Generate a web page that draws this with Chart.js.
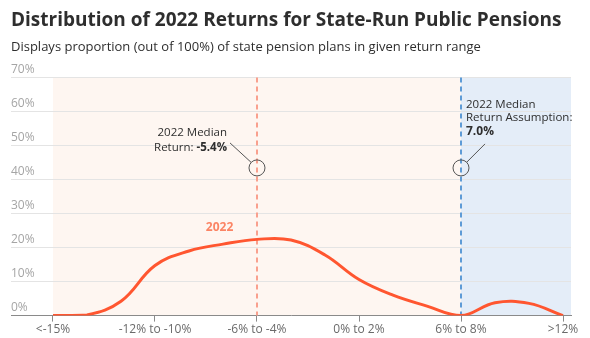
<!DOCTYPE html>
<html>
<head>
<meta charset="utf-8">
<script src="https://cdn.jsdelivr.net/npm/chart.js@4.4.0/dist/chart.umd.min.js"></script>
<style>
  html, body { margin: 0; padding: 0; background: #fff; }
  #wrap { width: 590px; height: 338px; }
</style>
</head>
<body>
<div id="wrap"><canvas id="returnsChart" width="590" height="338"></canvas></div>
<script>
// ---- data ----
const categories = ['<-15%', '-15% to -14%', '-14% to -12%', '-12% to -10%', '-10% to -8%', '-8% to -6%',
  '-6% to -4%', '-4% to -2%', '-2% to 0%', '0% to 2%', '2% to 4%', '4% to 6%',
  '6% to 8%', '8% to 10%', '10% to 12%', '>12%'];
const share2022 = [0, 0.2, 4.2, 14.7, 19, 21, 22.4, 22.2, 17.8, 10.6, 6, 2.8, 0, 3.8, 3.6, 0];
const labelledTicks = [0, 3, 6, 9, 12, 15];
const yTicks = [0, 10, 20, 30, 40, 50, 60, 70];

const MEDIAN_IDX = 6;        // -6% to -4%  (median -5.4%)
const ASSUMPTION_IDX = 12;   // 6% to 8%    (assumption 7.0%)
const MARKER_Y = 43.4;

const COLORS = {
  line: '#FF5630',
  series: '#FB8464',
  peach: '#FEF6F1',
  blue: '#E4EDF8',
  medianDash: '#F9A08E',
  assumeDash: '#5E9BD6',
  grid: '#E4E4E4',
  axis: '#8A8A8A',
  text: '#2E2E2E',
  tick: '#A5A5A5',
};

const FONT = "'Open Sans', sans-serif";

// shading + dashed reference lines + notes
const decorations = {
  id: 'decorations',
  beforeDraw(chart) {
    const { ctx, chartArea: a, scales: { x } } = chart;
    const x0 = x.getPixelForValue(0);
    const xm = x.getPixelForValue(ASSUMPTION_IDX);
    ctx.save();
    ctx.fillStyle = COLORS.peach;
    ctx.fillRect(x0, a.top, xm - x0, a.bottom - a.top);
    ctx.fillStyle = COLORS.blue;
    ctx.fillRect(xm, a.top, a.right - xm, a.bottom - a.top);
    ctx.restore();
  },
  beforeDatasetsDraw(chart) {
    const { ctx, chartArea: a, scales: { x } } = chart;
    ctx.save();
    ctx.lineWidth = 2;
    ctx.setLineDash([5, 4]);
    [[MEDIAN_IDX, COLORS.medianDash], [ASSUMPTION_IDX, COLORS.assumeDash]].forEach(([i, c]) => {
      const px = Math.round(x.getPixelForValue(i));
      ctx.strokeStyle = c;
      ctx.beginPath();
      ctx.moveTo(px, a.top);
      ctx.lineTo(px, a.bottom);
      ctx.stroke();
    });
    ctx.restore();
  },
  afterDatasetsDraw(chart) {
    const { ctx, scales: { x, y } } = chart;
    const r = 8;
    ctx.save();

    // series label
    ctx.font = `bold 12px ${FONT}`;
    ctx.fillStyle = COLORS.series;
    ctx.textAlign = 'center';
    ctx.textBaseline = 'middle';
    ctx.fillText('2022', x.getPixelForValue(4.9), y.getPixelForValue(25.9));

    // circles + leaders
    ctx.strokeStyle = '#555';
    ctx.lineWidth = 1;
    const cy = y.getPixelForValue(MARKER_Y);
    const c1 = x.getPixelForValue(MEDIAN_IDX);
    const c2 = x.getPixelForValue(ASSUMPTION_IDX);
    [c1, c2].forEach(cx => {
      ctx.beginPath();
      ctx.arc(cx, cy, r, 0, Math.PI * 2);
      ctx.stroke();
    });
    ctx.beginPath();
    ctx.moveTo(c1 - r * 0.73, cy - r * 0.69);
    ctx.lineTo(c1 - 27, cy - 25);
    ctx.moveTo(c2 + r * 0.71, cy - r * 0.71);
    ctx.lineTo(c2 + 24, cy - 24);
    ctx.stroke();

    // left note (right aligned)
    ctx.fillStyle = COLORS.text;
    ctx.textBaseline = 'middle';
    const lx = c1 - 30;
    ctx.textAlign = 'right';
    ctx.font = `11.5px ${FONT}`;
    ctx.fillText('2022 Median', lx, cy - 35);
    ctx.font = `bold 11.5px ${FONT}`;
    const boldW = ctx.measureText('-5.4%').width;
    ctx.fillText('-5.4%', lx, cy - 20);
    ctx.font = `11.5px ${FONT}`;
    ctx.fillText('Return: ', lx - boldW, cy - 20);

    // right note (left aligned)
    const rx = c2 + 5;
    ctx.textAlign = 'left';
    ctx.fillText('2022 Median', rx, cy - 63);
    ctx.fillText('Return Assumption:', rx, cy - 50);
    ctx.font = `bold 12px ${FONT}`;
    ctx.fillText('7.0%', rx, cy - 36);
    ctx.restore();
  }
};

new Chart(document.getElementById('returnsChart'), {
  type: 'line',
  data: {
    datasets: [{
      label: '2022',
      data: share2022.map((v, i) => ({ x: i, y: v })),
      borderColor: COLORS.line,
      borderWidth: 3,
      tension: 0.4,
      pointRadius: 0,
      fill: false,
    }]
  },
  options: {
    responsive: false,
    animation: false,
    layout: { padding: { left: 11, right: 19, top: 0, bottom: 0 } },
    plugins: {
      legend: { display: false },
      tooltip: { enabled: false },
      title: {
        display: true,
        text: 'Distribution of 2022 Returns for State-Run Public Pensions',
        align: 'start',
        color: COLORS.text,
        font: { family: FONT, size: 19, weight: 'bold' },
        padding: { top: 9, bottom: 0 },
      },
      subtitle: {
        display: true,
        text: 'Displays proportion (out of 100%) of state pension plans in given return range',
        align: 'start',
        color: COLORS.text,
        font: { family: FONT, size: 13 },
        padding: { top: 8, bottom: 22 },
      },
    },
    scales: {
      x: {
        type: 'linear',
        min: -1.235,
        max: 15.235,
        afterBuildTicks: scale => { scale.ticks = labelledTicks.map(v => ({ value: v })); },
        grid: { drawOnChartArea: false, drawTicks: true, tickLength: 6, color: COLORS.axis },
        border: { display: true, color: COLORS.axis },
        ticks: {
          autoSkip: false,
          maxRotation: 0,
          padding: 1,
          color: '#6A6A6A',
          font: { family: FONT, size: 12 },
          callback: v => categories[v],
        },
      },
      y: {
        min: 0,
        max: 70,
        afterBuildTicks: scale => { scale.ticks = yTicks.map(v => ({ value: v })); },
        grid: { color: COLORS.grid, drawTicks: false },
        border: { display: false },
        ticks: {
          mirror: true,
          padding: 0,
          labelOffset: -8,
          color: COLORS.tick,
          font: { family: FONT, size: 12 },
          callback: v => v + '%',
        },
      },
    },
  },
  plugins: [decorations],
});
</script>
</body>
</html>
